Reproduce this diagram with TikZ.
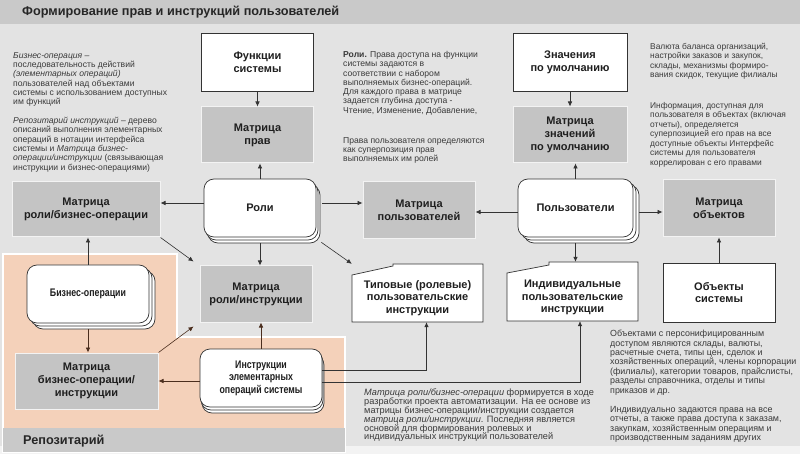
\documentclass[tikz,border=0pt]{standalone}
\usepackage{fontspec}
\setmainfont{Liberation Sans}
\newfontfamily\narrowfont[FakeStretch=0.8]{Liberation Sans}
\usetikzlibrary{arrows.meta,shadows}

\definecolor{bgc}{HTML}{E3E3E3}
\definecolor{barc}{HTML}{C9C9C9}
\definecolor{boxc}{HTML}{C4C4C4}
\definecolor{peach}{HTML}{F4D1BA}
\definecolor{linec}{HTML}{333333}
\definecolor{brownc}{HTML}{4B2E1E}
\definecolor{textc}{HTML}{3A3A3A}

\tikzset{
  labeltext/.style={font=\bfseries\fontsize{11}{12.8}\selectfont, text=black!88, align=center},
  greybox/.style={labeltext, fill=boxc, draw=white!80!boxc, line width=1pt},
  whitebox/.style={labeltext, fill=white, draw=linec, line width=0.7pt},
  stackbox/.style={labeltext, fill=white, draw=linec, line width=0.7pt, rounded corners=10pt},
  stackshadow/.style n args={4}{
    copy shadow={shadow xshift=#3, shadow yshift=#4, fill=white, draw=linec},
    copy shadow={shadow xshift=#1, shadow yshift=#2, fill=white, draw=linec}},
  docshape/.style={fill=white, draw=linec, line width=0.7pt},
  note/.style={font=\fontsize{8.6}{9.3}\selectfont, text=textc, align=left, anchor=north west},
  arr/.style={draw=linec, line width=0.6pt, -{Latex[length=5pt, width=4.5pt]}},
  brownarr/.style={arr, draw=brownc},
}

\begin{document}
\begin{tikzpicture}[x=1pt, y=-1pt, every node/.style={inner sep=0pt}]
  % background and title bar
  \fill[bgc] (0,0) rectangle (800,454);
  \fill[white!55!bgc] (0,446) rectangle (800,454);
  \fill[barc] (0,0) rectangle (800,24);
  \node[anchor=west, font=\bfseries\fontsize{12.7}{14}\selectfont, text=black!85]
    (title) at (22,12) {Формирование прав и инструкций пользователей};

  % repository area
  \filldraw[fill=peach, draw=white, line width=1.5pt]
    (3,254) -- (177,254) -- (177,337) -- (345,337) -- (345,452) -- (3,452) -- cycle;
  \fill[barc] (3,428) rectangle (345,452);
  \node[anchor=west, font=\bfseries\fontsize{12.7}{14}\selectfont, text=black!85]
    (repo) at (23,441) {Репозитарий};

  % notes
  \node[note] (bonote) at (13,52) {\textit{Бизнес-операция –}\\
    последовательность действий\\
    \textit{(элементарных операций)}\\
    пользователей над объектами\\
    системы с использованием доступных\\
    им функций};
  \node[note] (reponote) at (13,117) {\textit{Репозитарий инструкций} – дерево\\
    описаний выполнения элементарных\\
    операций в нотации интерфейса\\
    системы и \textit{Матрица бизнес-}\\
    \textit{операции/инструкции} (связывающая\\
    инструкции и бизнес-операциями)};
  \node[note] (rolinote) at (343,51) {\textbf{Роли.} Права доступа на функции\\
    системы задаются в\\
    соответствии с набором\\
    выполняемых бизнес-операций.\\
    Для каждого права в матрице\\
    задается глубина доступа -\\
    Чтение, Изменение, Добавление,};
  \node[note] (pravnote) at (343,137) {Права пользователя определяются\\
    как суперпозиция прав\\
    выполняемых им ролей};
  \node[note, font=\fontsize{8.4}{9.5}\selectfont] (znachnote) at (650,43) {Валюта баланса организаций,\\
    настройки заказов и закупок,\\
    склады, механизмы формиро-\\
    вания скидок, текущие филиалы};
  \node[note, font=\fontsize{8.4}{9.5}\selectfont] (infonote) at (650,102) {Информация, доступная для\\
    пользователя в объектах (включая\\
    отчеты), определяется\\
    суперпозицией его прав на все\\
    доступные объекты Интерфейс\\
    системы для пользователя\\
    коррелирован с его правами};
  \node[note, font=\fontsize{9.2}{8.8}\selectfont] (mrinote) at (364,389) {\textit{Матрица роли/бизнес-операции} формируется в ходе\\
    разработки проекта автоматизации. На ее основе из\\
    матрицы бизнес-операции/инструкции создается\\
    \textit{матрица роли/инструкции}. Последняя является\\
    основой для формирования ролевых и\\
    индивидуальных инструкций пользователей};
  \node[note, font=\fontsize{8.9}{9.4}\selectfont] (objnote) at (610,330) {Объектами с персонифицированным\\
    доступом являются склады, валюты,\\
    расчетные счета, типы цен, сделок и\\
    хозяйственных операций, члены корпорации\\
    (филиалы), категории товаров, прайслисты,\\
    разделы справочника, отделы и типы\\
    приказов и др.};
  \node[note, font=\fontsize{8.9}{9.4}\selectfont] (indivnote) at (610,406) {Индивидуально задаются права на все\\
    отчеты, а также права доступа к заказам,\\
    закупкам, хозяйственным операциям и\\
    производственным заданиям других};

  % boxes
  \node[whitebox, minimum width=112pt, minimum height=58pt] (fun) at (257.5,62) {Функции\\системы};
  \node[greybox, minimum width=112pt, minimum height=56pt] (mprav) at (257.5,135) {Матрица\\прав};
  \node[stackbox, stackshadow={2pt}{-3pt}{4pt}{-6pt}, minimum width=112pt, minimum height=58pt]
    (roli) at (260,208) {Роли};
  \node[greybox, minimum width=148pt, minimum height=55pt] (mrbo) at (86,209.5) {Матрица\\роли/бизнес-операции};
  \node[greybox, minimum width=112pt, minimum height=57pt] (mpolz) at (419,210.5) {Матрица\\пользователей};
  \node[greybox, minimum width=112pt, minimum height=56pt] (mri) at (256,294) {Матрица\\роли/инструкции};
  \node[stackbox, stackshadow={3pt}{-3pt}{6pt}{-6pt}, minimum width=122pt, minimum height=58pt,
    font=\narrowfont\bfseries\fontsize{11}{12.5}\selectfont] (bo) at (88,294) {Бизнес-операции};
  \node[greybox, minimum width=143pt, minimum height=56pt] (mboi) at (86.5,381) {Матрица\\бизнес-операции/\\инструкции};
  \node[stackbox, stackshadow={1pt}{-3pt}{2pt}{-6pt}, minimum width=122pt, minimum height=58pt,
    font=\narrowfont\bfseries\fontsize{11}{12.5}\selectfont] (instr) at (261,378) {Инструкции\\элементарных\\операций системы};

  \node[whitebox, minimum width=114pt, minimum height=58pt] (znach) at (570,62) {Значения\\по умолчанию};
  \node[greybox, minimum width=114pt, minimum height=56pt] (mznach) at (570,135) {Матрица\\значений\\по умолчанию};
  \node[stackbox, stackshadow={3pt}{-3pt}{6pt}{-6pt}, minimum width=115pt, minimum height=58pt]
    (polz) at (575.5,208) {Пользователи};
  \node[greybox, minimum width=112pt, minimum height=57pt] (mobj) at (719,208.5) {Матрица\\объектов};
  \node[whitebox, minimum width=112pt, minimum height=59pt] (obj) at (719,292.5) {Объекты\\системы};

  % folded instruction sheets
  \filldraw[docshape] (352,275) -- (393,266) -- (393,264) -- (483,264) -- (483,322) -- (352,322) -- cycle;
  \node[labeltext, minimum width=131pt, minimum height=48pt] (typ) at (417.5,298)
    {Типовые (ролевые)\\пользовательские\\инструкции};
  \filldraw[docshape] (507,273) -- (549,265) -- (549,262) -- (638,262) -- (638,321) -- (507,321) -- cycle;
  \node[labeltext, minimum width=131pt, minimum height=47pt] (indiv) at (572.5,297.5)
    {Индивидуальные\\пользовательские\\инструкции};

  % arrows
  \draw[arr] (fun) -- (mprav);
  \draw[arr] (roli.north) -- (roli.north |- mprav.south);
  \draw[arr] ([yshift=5pt]roli.west) -- ([yshift=5pt]roli.west -| mrbo.east);
  \draw[arr] ([xshift=6pt, yshift=5pt]roli.east) -- ([yshift=5pt]roli.east -| mpolz.west);
  \draw[arr] ([yshift=-6pt]roli.south) -- (roli.south |- mri.north);
  \draw[arr] ([shift={(5pt,-5pt)}]roli.south east) -- ([yshift=10pt]typ.north west);
  \draw[arr] (mrbo.south east) -- ([shift={(-6pt,4pt)}]mri.north west);
  \draw[arr] (bo.north) -- (bo.north |- mrbo.south);
  \draw[brownarr] ([yshift=-6pt]bo.south) -- (bo.south |- mboi.north);
  \draw[brownarr] (mboi.north east) -- ([shift={(-6pt,-4pt)}]mri.south west);
  \draw[brownarr] (instr.north) -- (instr.north |- mri.south);
  \draw[brownarr] ([yshift=-3pt]instr.west) -- ([yshift=-3pt]instr.west -| mboi.east);
  \draw[arr] ([yshift=8pt]instr.east) -| ([xshift=9pt]typ.south);
  \draw[arr] ([yshift=-4pt]instr.east) -| ([xshift=7.5pt]indiv.south);

  \draw[arr] (znach) -- (mznach);
  \draw[arr] (polz.north) -- (polz.north |- mznach.south);
  \draw[arr] ([yshift=-4pt]polz.west) -- ([yshift=-4pt]polz.west -| mpolz.east);
  \draw[arr] ([xshift=6pt, yshift=-4pt]polz.east) -- ([yshift=-4pt]polz.east -| mobj.west);
  \draw[arr] ([yshift=-6pt]polz.south) -- ([yshift=12pt]polz.south |- indiv.north);
  \draw[arr] (obj) -- (mobj);
\end{tikzpicture}
\end{document}
